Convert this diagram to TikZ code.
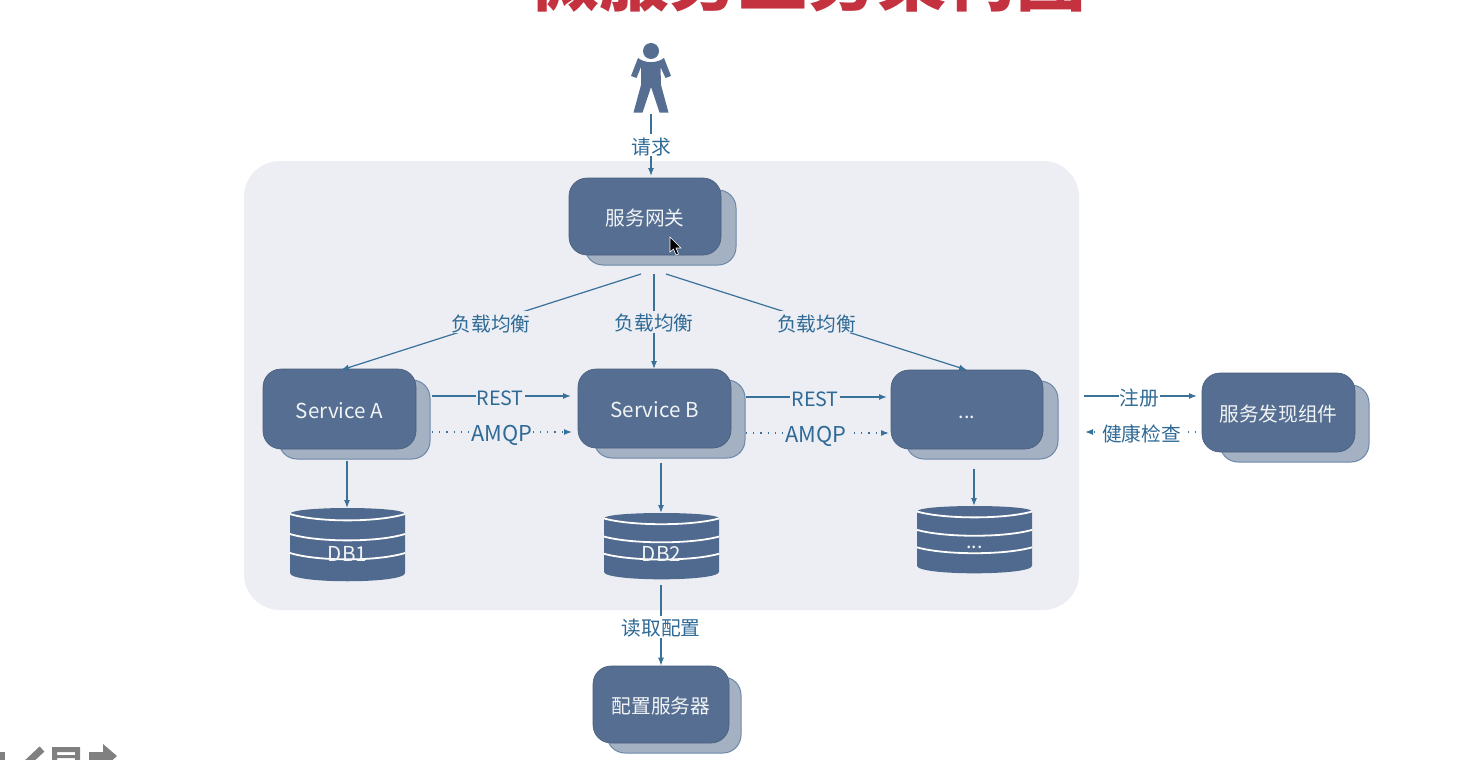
\documentclass[tikz,border=0pt]{standalone}
\usepackage{fontspec}
\setmainfont{Noto Sans CJK SC}
\usetikzlibrary{arrows.meta}
\definecolor{panelc}{HTML}{ECEEF3}
\definecolor{frontc}{HTML}{556E91}
\definecolor{backc}{HTML}{A3B1C3}
\definecolor{backline}{HTML}{6C88A8}
\definecolor{dbc}{HTML}{4F6A8E}
\definecolor{linkc}{HTML}{3A7199}
\definecolor{labelc}{HTML}{2F6A96}
\definecolor{titlec}{HTML}{C4323F}
\definecolor{iconc}{HTML}{808080}
\newcommand{\labelfont}{\fontsize{19.7}{22}\selectfont}
\newcommand{\wideA}{\fontsize{21.8}{22}\selectfont}
\newcommand{\wideB}{\fontsize{20.6}{22}\selectfont}
\tikzset{
  frontbox/.style={draw=frontc!85!black,line width=.6pt,fill=frontc,rounded corners=18pt,text=white!92!frontc,inner sep=0pt,font=\labelfont,text height=20pt,text depth=2pt},
  backbox/.style={draw=backline,line width=1pt,fill=backc,rounded corners=18pt,inner sep=0pt},
  linkline/.style={draw=linkc,line width=1.2pt,-{Latex[length=8pt,width=6pt]}},
  dotline/.style={linkline,dash pattern=on 1.2pt off 6pt},
  lab/.style={fill=panelc,text=labelc,inner xsep=1pt,inner ysep=0pt,font=\labelfont,text height=20pt,text depth=2pt},
  labw/.style={lab,fill=white},
  dbtext/.style={text=white!92!dbc,inner sep=0pt,font=\labelfont},
}
% x centre, top y, height, node name, text
\newcommand{\dbdraw}[5]{%
  \begin{scope}[shift={(#1,#2)},yscale=#3/74]
    \fill[dbc] (-57.5,6) .. controls (-57.5,-2) and (57.5,-2) .. (57.5,6)
      -- (57.5,65) .. controls (57.5,76) and (-57.5,76) .. (-57.5,65) -- cycle;
    \draw[white,line width=1.8pt] (-57.5,6) .. controls (-30,14.5) and (30,14.5) .. (57.5,6);
    \draw[white,line width=1.8pt] (-57.5,26) .. controls (-30,34.5) and (30,34.5) .. (57.5,26);
    \draw[white,line width=1.8pt] (-57.5,45) .. controls (-30,53.5) and (30,53.5) .. (57.5,45);
    \node[dbtext] (#4) at (0,45.5) {#5};
  \end{scope}}
\begin{document}
\begin{tikzpicture}[x=1pt,y=-1pt]
\useasboundingbox (0,0) rectangle (1483,760);
\clip (0,0) rectangle (1483,760);
\fill[white] (0,0) rectangle (1483,760);
% title
\node[anchor=base,text=titlec,inner sep=0pt,font=\fontsize{69.5}{70}\selectfont\bfseries] (title) at (807.5,5.5) {微服务业务架构图};
% panel
\fill[panelc] (244,161) [rounded corners=36pt] rectangle (1079,610);
% person
\fill[frontc] (651,51) circle (8);
\fill[frontc] (638,58) .. controls (645,63.5) and (657,63.5) .. (664,58)
  -- (671,76) -- (665.5,78) -- (660.5,67) -- (661,85) -- (668.5,112.5) -- (659.5,112.5) -- (651,87)
  -- (642.5,112.5) -- (633.5,112.5) -- (641,85) -- (641,67) -- (636.5,78) -- (631,76) -- cycle;
\coordinate (personfoot) at (651,114);
% service boxes: back then front
\node[backbox,minimum width=151pt,minimum height=75pt] (gwback) at (660.5,227.5) {};
\node[frontbox,minimum width=152pt,minimum height=77pt] (gw) at (645,216.5) {服务网关};
\node[backbox,minimum width=151pt,minimum height=79pt] (aback) at (354.5,419.5) {};
\node[frontbox,minimum width=153pt,minimum height=80pt] (a) at (339.5,409) {\wideB Service A};
\node[backbox,minimum width=151pt,minimum height=78pt] (bback) at (669.5,419) {};
\node[frontbox,minimum width=153pt,minimum height=79pt] (b) at (654.5,408.5) {\wideB Service B};
\node[backbox,minimum width=152pt,minimum height=78pt] (cback) at (982,420) {};
\node[frontbox,minimum width=152pt,minimum height=79pt] (c) at (967,409.5) {...};
\node[backbox,minimum width=149pt,minimum height=77pt] (sdback) at (1294.5,423.5) {};
\node[frontbox,minimum width=153pt,minimum height=79pt] (sd) at (1278.5,412.5) {服务发现组件};
\node[backbox,minimum width=134pt,minimum height=76pt] (cfgback) at (674,715) {};
\node[frontbox,minimum width=136pt,minimum height=77pt] (cfg) at (661,704.5) {配置服务器};
% databases
\dbdraw{347.5}{508}{74}{dba}{\wideB DB1}
\dbdraw{661.5}{513}{67}{dbb}{\wideB DB2}
\dbdraw{974.5}{506}{68}{dbc}{...}
% connector free ends
\coordinate (gwL) at (641,274); \coordinate (gwM) at (654,274); \coordinate (gwR) at (666,274);
\coordinate (gwIn) at (651,176);
\coordinate (aR1) at (432,396); \coordinate (aR2) at (432,432);
\coordinate (bL1) at (571,396); \coordinate (bL2) at (572,432);
\coordinate (bR1) at (746,397); \coordinate (bR2) at (746,433);
\coordinate (cL1) at (887,397); \coordinate (cL2) at (889,433);
\coordinate (cR1) at (1084,396); \coordinate (cR2) at (1085,432);
\coordinate (sdL1) at (1197,396); \coordinate (sdL2) at (1196,432);
\coordinate (aD) at (347,461); \coordinate (bD) at (661,463); \coordinate (cD) at (974,469);
\coordinate (dbaT) at (347,508); \coordinate (dbbT) at (661,513); \coordinate (dbcT) at (974,506);
\coordinate (dbbB) at (661,585); \coordinate (aT) at (341,370); \coordinate (bT) at (654,369); \coordinate (cT) at (967,370);
% connectors
\draw[linkline] (personfoot) -- node[labw,pos=.5] (l1) {请求} (gwIn);
\draw[linkline] (gwL) -- node[lab,pos=.5] (l2) {负载均衡} (aT);
\draw[linkline] (gwM) -- node[lab,pos=.5] (l3) {负载均衡} (bT);
\draw[linkline] (gwR) -- node[lab,pos=.5] (l4) {负载均衡} (cT);
\draw[linkline] (aR1) -- node[lab,pos=.49] (l5) {REST} (bL1);
\draw[dotline] (aR2) -- node[lab,pos=.5] (l6) {\wideA AMQP} (bL2);
\draw[linkline] (bR1) -- node[lab,pos=.49] (l7) {REST} (cL1);
\draw[dotline] (bR2) -- node[lab,pos=.49] (l8) {\wideA AMQP} (cL2);
\draw[linkline] (cR1) -- node[labw,pos=.49] (l9) {注册} (sdL1);
\draw[dotline] (sdL2) -- node[labw,pos=.49] (l10) {健康检查} (cR2);
\draw[linkline] (aD) -- (dbaT);
\draw[linkline] (bD) -- (dbbT);
\draw[linkline] (cD) -- (dbcT);
\draw[linkline] (dbbB) -- node[labw,pos=.52] (l11) {读取配置} (cfg.north);
% mouse cursor
\draw[white,line width=.6pt,fill=black] (670,237) -- (670,252) -- (673.5,249) -- (676,255) -- (678.5,254) -- (676,248) -- (681,248) -- cycle;
% bottom-left toolbar icons
\fill[iconc] (0,752) -- (5,752) -- (5,760) -- (0,760) -- cycle;
\draw[iconc,line width=7pt] (25,765) -- (42,749);
\fill[iconc,even odd rule] (52,747) rectangle (80,770) (57,752) rectangle (75,755) (57,758) rectangle (75,761);
\fill[iconc] (89,752) -- (103,752) -- (103,744) -- (117,756) -- (107,765) -- (89,765) -- cycle;
\end{tikzpicture}
\end{document}
